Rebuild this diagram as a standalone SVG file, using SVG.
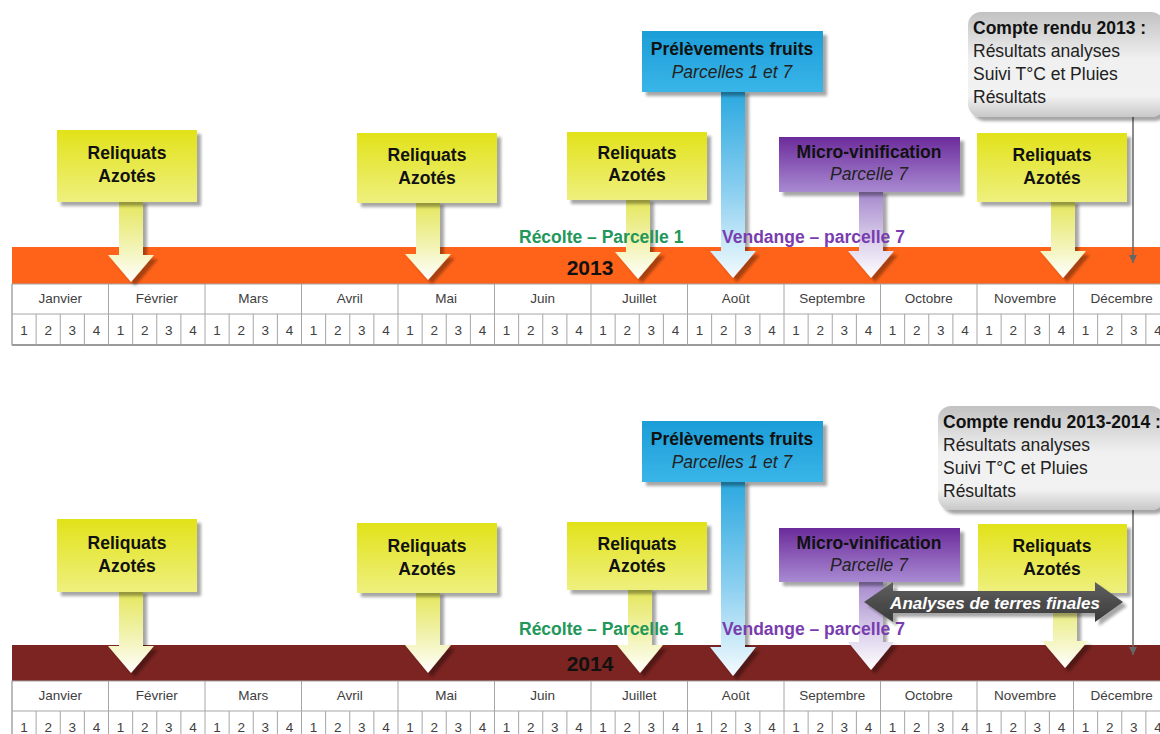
<svg xmlns="http://www.w3.org/2000/svg" xmlns:xlink="http://www.w3.org/1999/xlink" width="1160" height="734" viewBox="0 0 1160 734">
<style>
.bt{font-family:"Liberation Sans",Arial,sans-serif;font-weight:bold;font-size:17.5px;text-anchor:middle;fill:#111}
.it{font-family:"Liberation Sans",Arial,sans-serif;font-style:italic;font-size:17.5px;text-anchor:middle;fill:#222}
.mo{font-family:"Liberation Sans",Arial,sans-serif;font-size:13.5px;text-anchor:middle;fill:#404040}
.cr{font-family:"Liberation Sans",Arial,sans-serif;font-size:17.5px;fill:#222}
.crb{font-family:"Liberation Sans",Arial,sans-serif;font-size:17.5px;font-weight:bold;fill:#111}
.yr{font-family:"Liberation Sans",Arial,sans-serif;font-weight:bold;font-size:21px;text-anchor:middle;fill:#111}
.lbl{font-family:"Liberation Sans",Arial,sans-serif;font-weight:bold;font-size:17.5px}
.ybox{fill:url(#gY)}
.bbox{fill:url(#gB)}
.pbox{fill:url(#gP)}
.gbox{fill:url(#gG)}
.ystem{fill:url(#gYs)}
.bstem{fill:url(#gBs)}
.pstem{fill:url(#gPs)}
.sh{filter:url(#sh)}
.ln{stroke:#a6a6a6;stroke-width:1;fill:none}
</style>
<defs>
<filter id="sh" x="-10%" y="-10%" width="130%" height="130%"><feDropShadow dx="4" dy="4" stdDeviation="1.5" flood-color="#000" flood-opacity="0.35"/></filter>
<linearGradient id="gY" x1="0" y1="0" x2="0" y2="1"><stop offset="0" stop-color="#e2e21a"/><stop offset="1" stop-color="#eef07e"/></linearGradient>
<linearGradient id="gB" x1="0" y1="0" x2="0" y2="1"><stop offset="0" stop-color="#1c9dd8"/><stop offset="1" stop-color="#39b5e8"/></linearGradient>
<linearGradient id="gP" x1="0" y1="0" x2="0" y2="1"><stop offset="0" stop-color="#6b2b9b"/><stop offset="1" stop-color="#a98ad2"/></linearGradient>
<linearGradient id="gG" x1="0" y1="0" x2="0" y2="1"><stop offset="0" stop-color="#c2c2c2"/><stop offset="0.45" stop-color="#f0f0f0"/><stop offset="0.8" stop-color="#f2f2f2"/><stop offset="1" stop-color="#c8c8c8"/></linearGradient>
<linearGradient id="gYs" x1="0" y1="0" x2="0" y2="1"><stop offset="0" stop-color="#e4e658"/><stop offset="0.6" stop-color="#f3f4b8"/><stop offset="1" stop-color="#ffffff"/></linearGradient>
<linearGradient id="gBs" x1="0" y1="0" x2="0" y2="1"><stop offset="0" stop-color="#2aa8e0"/><stop offset="0.55" stop-color="#8dd0f0"/><stop offset="1" stop-color="#f4fbfe"/></linearGradient>
<linearGradient id="gPs" x1="0" y1="0" x2="0" y2="1"><stop offset="0" stop-color="#a386cc"/><stop offset="0.6" stop-color="#ddd2ec"/><stop offset="1" stop-color="#ffffff"/></linearGradient>
<linearGradient id="gD" x1="0" y1="0" x2="0" y2="1"><stop offset="0" stop-color="#606060"/><stop offset="1" stop-color="#3a3a3a"/></linearGradient>
<marker id="ah" markerWidth="8" markerHeight="8" refX="8" refY="4" orient="auto" markerUnits="userSpaceOnUse"><path d="M0,0 L8,4 L0,8 z" fill="#666"/></marker>
<g id="mw">
<path class="ln" d="M0,0 V61 M24.125,30 V61 M48.25,30 V61 M72.375,30 V61"/>
<text class="mo" x="12.06" y="51">1</text>
<text class="mo" x="36.19" y="51">2</text>
<text class="mo" x="60.31" y="51">3</text>
<text class="mo" x="84.44" y="51">4</text>
</g>
<g id="tbl">
<rect x="12" y="0" width="1160" height="61" fill="#fff" stroke="#a6a6a6"/>
<path class="ln" d="M12,30 H1172"/>
<path d="M12,61 H1172" stroke="#9a9a9a" stroke-width="2"/>
<use href="#mw" x="12"/><use href="#mw" x="108.5"/><use href="#mw" x="205"/><use href="#mw" x="301.5"/>
<use href="#mw" x="398"/><use href="#mw" x="494.5"/><use href="#mw" x="591"/><use href="#mw" x="687.5"/>
<use href="#mw" x="784"/><use href="#mw" x="880.5"/><use href="#mw" x="977"/><use href="#mw" x="1073.5"/>
<text class="mo" x="60.25" y="19">Janvier</text>
<text class="mo" x="156.75" y="19">Février</text>
<text class="mo" x="253.25" y="19">Mars</text>
<text class="mo" x="349.75" y="19">Avril</text>
<text class="mo" x="446.25" y="19">Mai</text>
<text class="mo" x="542.75" y="19">Juin</text>
<text class="mo" x="639.25" y="19">Juillet</text>
<text class="mo" x="735.75" y="19">Août</text>
<text class="mo" x="832.25" y="19">Septembre</text>
<text class="mo" x="928.75" y="19">Octobre</text>
<text class="mo" x="1025.25" y="19">Novembre</text>
<text class="mo" x="1121.75" y="19">Décembre</text>
</g>
</defs>
<rect width="1160" height="734" fill="#fff"/>

<!-- ===== 2013 timeline ===== -->
<g id="timeline-2013">
<rect x="12" y="247" width="1150" height="37" fill="#ff6319"/>
<use href="#tbl" y="284"/>
<text class="yr" x="590" y="275">2013</text>
</g>
<g id="timeline-2014">
<rect x="12" y="645" width="1150" height="36" fill="#7b2421"/>
<use href="#tbl" y="681"/>
<text class="yr" x="590" y="671">2014</text>
</g>

<g id="connectors">
<polygon class="ystem sh" points="119,200 143,200 143,255 154,255 131,282 108,255 119,255"/>
<polygon class="ystem sh" points="416,201 440,201 440,254 451,254 428,280 405,254 416,254"/>
<polygon class="ystem sh" points="626,198 650,198 650,252 661,252 638,279 615,252 626,252"/>
<polygon class="bstem sh" points="721,90 745,90 745,251 756,251 733,278 710,251 721,251"/>
<polygon class="pstem sh" points="859,190 883,190 883,251 894,251 871,278 848,251 859,251"/>
<polygon class="ystem sh" points="1051,200 1075,200 1075,251 1086,251 1063,278 1040,251 1051,251"/>
<path d="M1133,117 V263" stroke="#666" stroke-width="1.5" marker-end="url(#ah)"/>
<polygon class="ystem sh" points="119,590 143,590 143,646 154,646 131,673 108,646 119,646"/>
<polygon class="ystem sh" points="416,591 440,591 440,645 451,645 428,673 405,645 416,645"/>
<polygon class="ystem sh" points="628,588 652,588 652,645 663,645 640,673 617,645 628,645"/>
<polygon class="bstem sh" points="721,480 745,480 745,647 756,647 733,676 710,647 721,647"/>
<polygon class="pstem sh" points="859,580 883,580 883,642 894,642 871,670 848,642 859,642"/>
<polygon class="ystem sh" points="1053,591 1077,591 1077,641 1088,641 1065,668 1042,641 1053,641"/>
<path d="M1133,510 V655" stroke="#666" stroke-width="1.5" marker-end="url(#ah)"/>
</g>

<g id="labels-2013">
<text class="lbl" x="519" y="243" fill="#22975a">Récolte – Parcelle 1</text>
<text class="lbl" x="722" y="243" fill="#7a3db0">Vendange – parcelle 7</text>
</g>
<g id="labels-2014">
<text class="lbl" x="519" y="635" fill="#22975a">Récolte – Parcelle 1</text>
<text class="lbl" x="722" y="635" fill="#7a3db0">Vendange – parcelle 7</text>
</g>

<!-- ===== 2013 callouts ===== -->
<g id="reliquats-jan-2013">
<rect class="ybox sh" x="57" y="130" width="140" height="72"/>
<text class="bt" x="127" y="159">Reliquats</text>
<text class="bt" x="127" y="182">Azotés</text>
</g>
<g id="reliquats-mai-2013">
<rect class="ybox sh" x="357" y="133" width="140" height="70"/>
<text class="bt" x="427" y="161">Reliquats</text>
<text class="bt" x="427" y="184">Azotés</text>
</g>
<g id="reliquats-jul-2013">
<rect class="ybox sh" x="567" y="132" width="140" height="68"/>
<text class="bt" x="637" y="159">Reliquats</text>
<text class="bt" x="637" y="181">Azotés</text>
</g>
<g id="prelevements-2013">
<rect class="bbox sh" x="642" y="31" width="181" height="61"/>
<text class="bt" x="732" y="55">Prélèvements fruits</text>
<text class="it" x="732" y="78">Parcelles 1 et 7</text>
</g>
<g id="microvinif-2013">
<rect class="pbox sh" x="779" y="137" width="181" height="55"/>
<text class="bt" x="869" y="158">Micro-vinification</text>
<text class="it" x="869" y="180">Parcelle 7</text>
</g>
<g id="reliquats-nov-2013">
<rect class="ybox sh" x="977" y="133" width="150" height="69"/>
<text class="bt" x="1052" y="161">Reliquats</text>
<text class="bt" x="1052" y="184">Azotés</text>
</g>
<g id="compte-rendu-2013">
<rect class="gbox sh" x="968" y="12" width="196" height="105" rx="13"/>
<text class="crb" x="973" y="34">Compte rendu 2013 :</text>
<text class="cr" x="973" y="57">Résultats analyses</text>
<text class="cr" x="973" y="80">Suivi T°C et Pluies</text>
<text class="cr" x="973" y="103">Résultats</text>
</g>

<!-- ===== 2014 callouts ===== -->
<g id="reliquats-jan-2014">
<rect class="ybox sh" x="57" y="519" width="140" height="73"/>
<text class="bt" x="127" y="549">Reliquats</text>
<text class="bt" x="127" y="572">Azotés</text>
</g>
<g id="reliquats-mai-2014">
<rect class="ybox sh" x="357" y="523" width="140" height="70"/>
<text class="bt" x="427" y="552">Reliquats</text>
<text class="bt" x="427" y="575">Azotés</text>
</g>
<g id="reliquats-jul-2014">
<rect class="ybox sh" x="567" y="522" width="140" height="68"/>
<text class="bt" x="637" y="550">Reliquats</text>
<text class="bt" x="637" y="572">Azotés</text>
</g>
<g id="prelevements-2014">
<rect class="bbox sh" x="642" y="421" width="181" height="61"/>
<text class="bt" x="732" y="445">Prélèvements fruits</text>
<text class="it" x="732" y="468">Parcelles 1 et 7</text>
</g>
<g id="microvinif-2014">
<rect class="pbox sh" x="779" y="528" width="181" height="54"/>
<text class="bt" x="869" y="549">Micro-vinification</text>
<text class="it" x="869" y="571">Parcelle 7</text>
</g>
<g id="reliquats-nov-2014">
<rect class="ybox sh" x="978" y="524" width="149" height="69"/>
<text class="bt" x="1052" y="552">Reliquats</text>
<text class="bt" x="1052" y="575">Azotés</text>
</g>
<g id="compte-rendu-2014">
<rect class="gbox sh" x="938" y="406" width="226" height="104" rx="13"/>
<text class="crb" x="943" y="428">Compte rendu 2013-2014 :</text>
<text class="cr" x="943" y="451">Résultats analyses</text>
<text class="cr" x="943" y="474">Suivi T°C et Pluies</text>
<text class="cr" x="943" y="497">Résultats</text>
</g>
<g id="analyses-terres-finales">
<polygon class="sh" fill="url(#gD)" points="864,602 893,582 893,591 1095,591 1095,582 1123,602 1095,622 1095,613 893,613 893,622"/>
<text x="995" y="609" style="font-family:'Liberation Sans',Arial,sans-serif;font-weight:bold;font-style:italic;font-size:17px;text-anchor:middle;fill:#fff">Analyses de terres finales</text>
</g>
</svg>
